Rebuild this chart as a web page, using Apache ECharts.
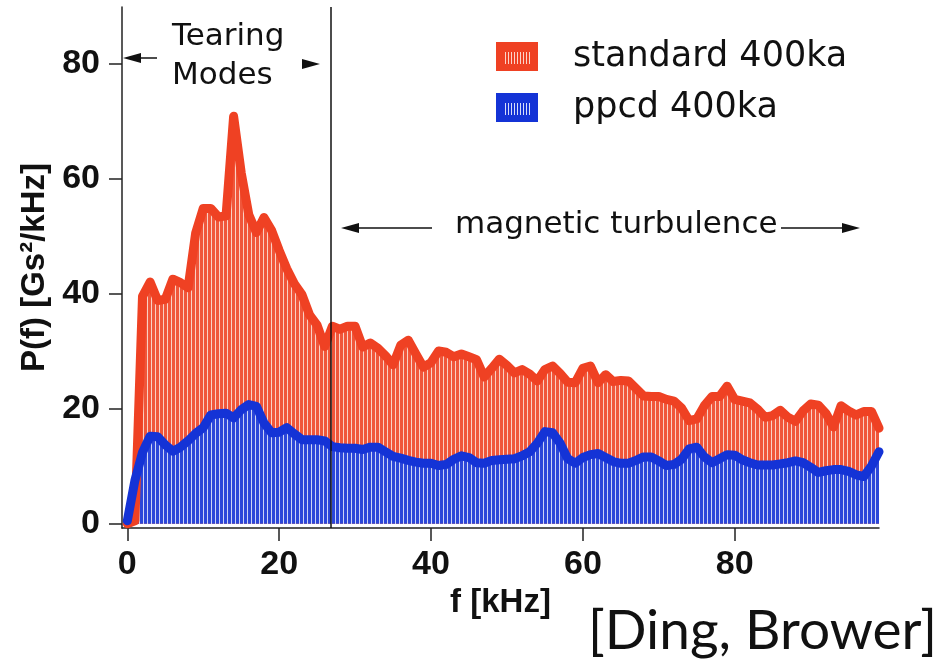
<!DOCTYPE html>
<html>
<head>
<meta charset="utf-8">
<script src="https://cdn.jsdelivr.net/npm/echarts@6/dist/echarts.min.js"></script>
<style>
  html, body { margin: 0; padding: 0; background: #fff; }
  #chart { width: 940px; height: 665px; }
</style>
</head>
<body>
<div id="chart"></div>
<script>
// frequency samples [kHz]
var freq = [
  0, 1, 2, 3, 4, 5, 6, 7, 8, 9,
  10, 11, 12, 13, 14, 15, 16, 17, 18, 19,
  20, 21, 22, 23, 24, 25, 26, 27, 28, 29,
  30, 31, 32, 33, 34, 35, 36, 37, 38, 39,
  40, 41, 42, 43, 44, 45, 46, 47, 48, 49,
  50, 51, 52, 53, 54, 55, 56, 57, 58, 59,
  60, 61, 62, 63, 64, 65, 66, 67, 68, 69,
  70, 71, 72, 73, 74, 75, 76, 77, 78, 79,
  80, 81, 82, 83, 84, 85, 86, 87, 88, 89,
  90, 91, 92, 93, 94, 95, 96, 97, 98, 99
];

// P(f) standard 400ka
var standard = [
  0, 0.5, 39.5, 42, 38.8, 39, 42.5, 41.9, 41, 50.5,
  54.8, 54.8, 53.3, 53.5, 70.8, 61, 53.7, 50.6, 53.2, 51,
  47.5, 44.3, 41.7, 39.8, 36.3, 34.5, 30.8, 34.3, 33.8, 34.3,
  34.3, 30.7, 31.4, 30.5, 29.2, 27.6, 31, 31.9, 29.5, 27.2,
  28, 30, 29.8, 29, 29.5, 29, 28.5, 25.5, 27, 28.6,
  27.5, 26.2, 26.8, 26, 24.8, 26.8, 27.4, 26.1, 24.6, 24.5,
  27, 27.4, 24.5, 25.9, 24.7, 24.9, 24.8, 23.5, 22.2, 22.1,
  22.1, 21.6, 21.3, 20.1, 17.9, 18.2, 20.5, 22.1, 22.1, 23.9,
  21.6, 21.3, 21, 19.9, 18.5, 18.8, 19.7, 18.5, 17.8, 19.6,
  20.8, 20.6, 19.2, 16.8, 20.5, 19.6, 18.9, 19.5, 19.5, 16.6
];

// P(f) ppcd 400ka
var ppcd = [
  0.5, 7.5, 12.4, 15.2, 15.1, 13.7, 12.6, 13.3, 14.4, 15.7,
  16.7, 18.9, 19.1, 19.2, 18.4, 19.8, 20.7, 20.4, 17.5, 15.8,
  15.9, 16.7, 15.6, 14.6, 14.6, 14.6, 14.4, 13.4, 13.2, 13.1,
  13.1, 12.9, 13.3, 13.3, 12.5, 11.7, 11.4, 11, 10.7, 10.5,
  10.5, 10.1, 10.3, 11.2, 11.8, 11.5, 10.6, 10.5, 11, 11.1,
  11.2, 11.3, 11.8, 12.5, 14, 16, 15.8, 14, 11.3, 10.5,
  11.5, 12, 12.2, 11.5, 10.8, 10.5, 10.5, 11, 11.6, 11.6,
  10.9, 10.1, 10.3, 11.2, 13, 13.3, 11.6, 10.6, 11.3, 12,
  11.9, 11.1, 10.6, 10.2, 10.2, 10.2, 10.4, 10.6, 10.9, 10.6,
  9.8, 8.9, 9.2, 9.4, 9.4, 9.1, 8.5, 8.2, 10, 12.5
];

var xTicks = [0, 20, 40, 60, 80];
var yTicks = [0, 20, 40, 60, 80];
var tearingEdge = 26.85; // kHz, boundary tearing modes / turbulence

var RED = '#ef4123';
var BLUE = '#1433d6';

// vertical stripe fill, looks like the dense bars of the original
function stripes(color, gap) {
  var c = document.createElement('canvas');
  c.width = 4; c.height = 4;
  var ctx = c.getContext('2d');
  ctx.fillStyle = color;
  ctx.fillRect(0, 0, 4, 4);
  ctx.fillStyle = gap;
  ctx.fillRect(3, 0, 1, 4);
  return c;
}

// legend swatch with a few light bars in the middle
function swatch(color, gap) {
  var c = document.createElement('canvas');
  c.width = 42; c.height = 29;
  var ctx = c.getContext('2d');
  ctx.fillStyle = color;
  ctx.fillRect(0, 0, 42, 29);
  ctx.fillStyle = gap;
  for (var x = 9; x < 34; x += 3) ctx.fillRect(x, 10, 1, 12);
  return c;
}

function pairs(ys) {
  return freq.map(function (f, i) { return [f, ys[i]]; });
}

// arrow helpers (annotation graphics)
function head(tipX, y, dir) {
  var b = tipX - dir * 18;
  return {
    type: 'polygon',
    shape: { points: [[tipX, y], [b, y - 5], [b, y + 5]] },
    style: { fill: '#111' }
  };
}
function seg(x1, x2, y) {
  return {
    type: 'line',
    shape: { x1: x1, y1: y, x2: x2, y2: y },
    style: { stroke: '#111', lineWidth: 1.5 }
  };
}
function label(text, x, y, size, family, align) {
  return {
    type: 'text', x: x, y: y,
    style: {
      text: text, fill: '#111', align: align || 'left', verticalAlign: 'middle',
      font: size + 'px ' + family
    }
  };
}

var myChart = echarts.init(document.getElementById('chart'));

var option = {
  animation: false,
  backgroundColor: '#fff',
  grid: { left: 122, top: 7, right: 61, bottom: 137, containLabel: false },
  legend: {
    orient: 'vertical',
    left: 496,
    top: 39,
    padding: 0,
    itemWidth: 42,
    itemHeight: 29,
    itemGap: 16,
    icon: 'rect',
    textStyle: {
      fontFamily: 'DejaVu Sans', fontSize: 35, color: '#111',
      padding: [3, 0, 0, 30]
    },
    data: [
      { name: 'standard 400ka', itemStyle: { color: { image: swatch(RED, '#fbd3c9'), repeat: 'no-repeat' } } },
      { name: 'ppcd 400ka', itemStyle: { color: { image: swatch(BLUE, '#d6dcf8'), repeat: 'no-repeat' } } }
    ]
  },
  xAxis: {
    type: 'value',
    min: -0.7,
    max: 99,
    name: 'f [kHz]',
    nameLocation: 'middle',
    nameGap: 57,
    nameTextStyle: { fontFamily: 'Liberation Sans', fontWeight: 'bold', fontSize: 33, color: '#111' },
    splitLine: { show: false },
    axisLine: { onZero: false, lineStyle: { color: '#222', width: 1.5 } },
    axisTick: { length: 13, customValues: xTicks, lineStyle: { color: '#222', width: 1.5 } },
    axisLabel: {
      customValues: xTicks, margin: 20,
      fontFamily: 'Liberation Sans', fontWeight: 'bold', fontSize: 34, color: '#111'
    }
  },
  yAxis: {
    type: 'value',
    min: -0.75,
    max: 89.8,
    name: 'P(f) [Gs²/kHz]',
    nameLocation: 'middle',
    nameRotate: 90,
    nameGap: 68,
    nameTextStyle: { fontFamily: 'Liberation Sans', fontWeight: 'bold', fontSize: 33, color: '#111', padding: [0, 0, 0, 0] },
    splitLine: { show: false },
    axisLine: { show: true, onZero: false, lineStyle: { color: '#222', width: 1.5 } },
    axisTick: { show: true, length: 13, customValues: yTicks, lineStyle: { color: '#222', width: 1.5 } },
    axisLabel: {
      customValues: yTicks, margin: 22,
      fontFamily: 'Liberation Sans', fontWeight: 'bold', fontSize: 34, color: '#111'
    }
  },
  series: [
    {
      name: 'standard 400ka',
      type: 'line',
      data: pairs(standard),
      showSymbol: false,
      itemStyle: { color: RED },
      lineStyle: { color: RED, width: 9, join: 'round', cap: 'round' },
      areaStyle: { color: { image: stripes('#f0563a', '#fbd0c4'), repeat: 'repeat' }, opacity: 1 },
      markLine: {
        silent: true,
        symbol: 'none',
        label: { show: false },
        lineStyle: { color: '#111', width: 1.5, type: 'solid' },
        data: [{ xAxis: tearingEdge }]
      }
    },
    {
      name: 'ppcd 400ka',
      type: 'line',
      data: pairs(ppcd),
      showSymbol: false,
      itemStyle: { color: BLUE },
      lineStyle: { color: BLUE, width: 9, join: 'round', cap: 'round' },
      areaStyle: { color: { image: stripes('#2c47d9', '#cdd4f6'), repeat: 'repeat' }, opacity: 1 }
    }
  ],
  graphic: [
    label('Tearing', 172, 36.6, 31, '"DejaVu Sans"'),
    label('Modes', 172, 75.6, 31, '"DejaVu Sans"'),
    seg(140, 157, 58), head(123, 58, -1),
    head(320, 64, 1),
    seg(359, 432, 228), head(341, 228, -1),
    label('magnetic turbulence', 455, 224.5, 31, '"DejaVu Sans"'),
    seg(781, 843, 228), head(860, 228, 1),
    label('[Ding, Brower]', 937, 631, 55, 'Lato', 'right')
  ]
};

myChart.setOption(option);
</script>
</body>
</html>
